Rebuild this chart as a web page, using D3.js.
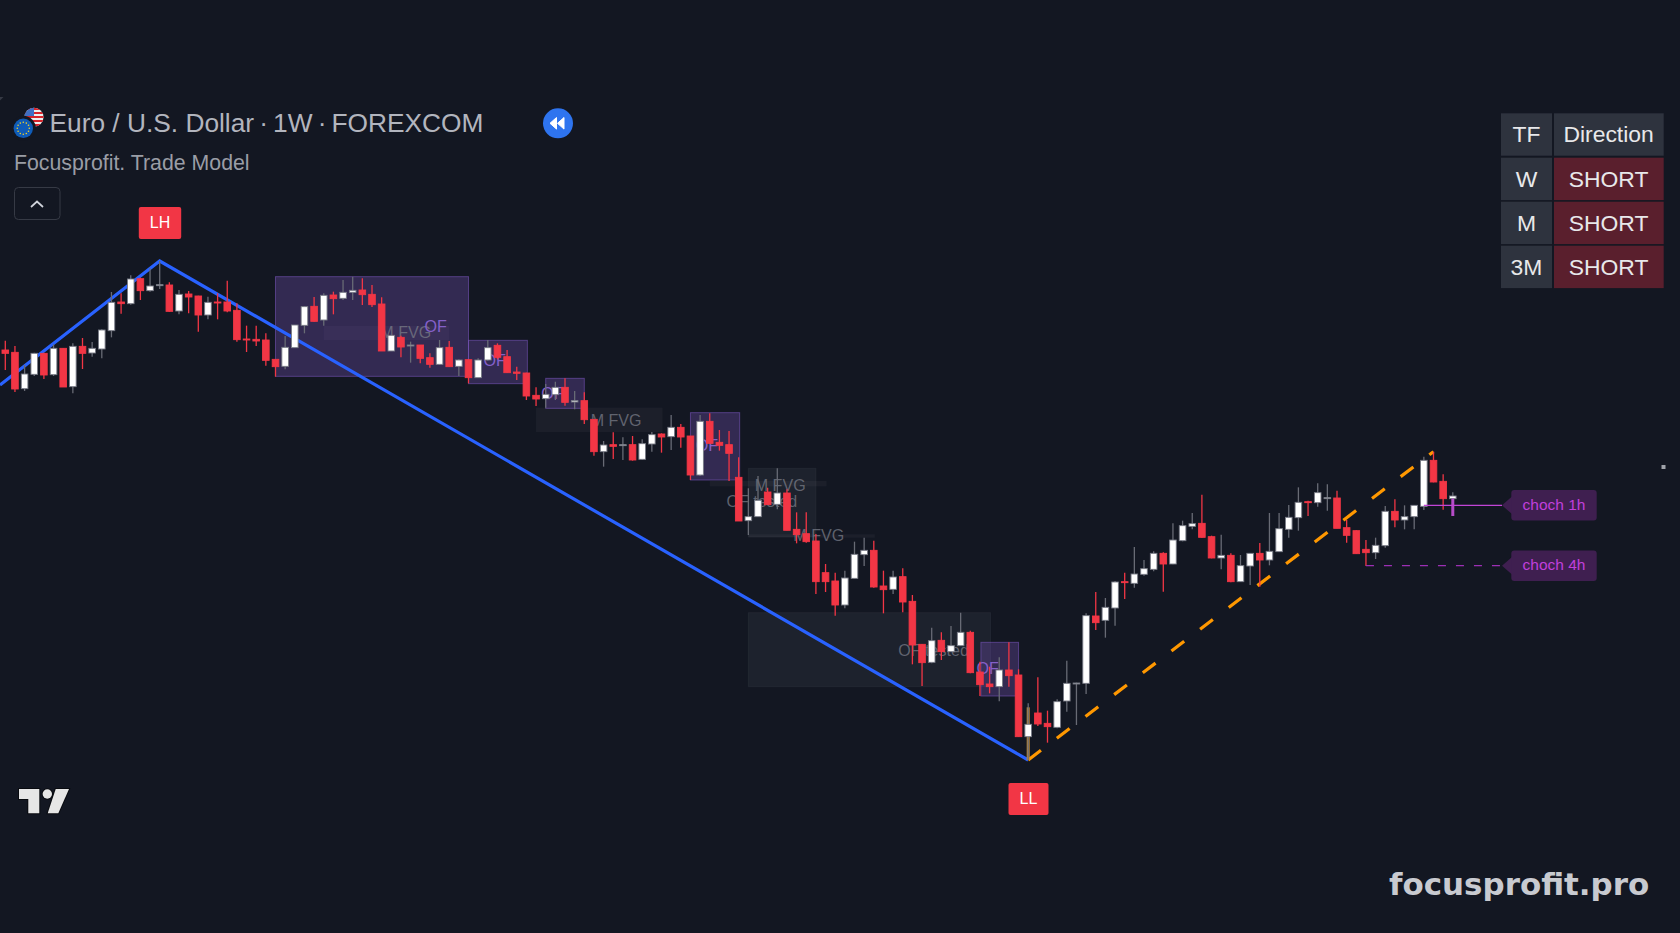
<!DOCTYPE html>
<html>
<head>
<meta charset="utf-8">
<script src="https://cdn.jsdelivr.net/npm/d3@7"></script>
<style>
    html, body { margin: 0; padding: 0; background: #131722; overflow: hidden; }
    svg { display: block; }
    text { font-family: "Liberation Sans", Arial, sans-serif; white-space: pre; }
</style>
</head>
<body>
<svg width="1680" height="933"></svg>
<script>
// Weekly candles, prices x 10000
var opens = [11900,11886,11668,11754,11880,11752,11910,11680,11922,11882,11906,12016,12188,12178,12328,12256,12286,12290,12134,12236,
    12224,12110,12188,12188,12138,11966,11964,11960,11844,11802,11914,12048,12162,12080,12230,12210,12246,12260,12234,12176,
    11894,11976,11924,11930,11854,11814,11916,11802,11842,11734,11840,11928,11860,11768,11762,11628,11608,11632,11676,11588,
    11596,11484,11290,11332,11326,11332,11244,11336,11396,11380,11436,11384,11150,11472,11346,11332,11136,10876,10900,11048,
    10974,11042,10824,10798,10754,10564,10514,10370,10530,10672,10698,10484,10464,10540,10392,10134,10026,10158,10090,10126,
    10206,9968,9896,9880,9980,9950,9580,9722,9660,9636,9794,9896,9900,10304,10278,10352,10510,10500,10554,10584,
    10680,10616,10756,10842,10860,10780,10652,10668,10510,10604,10680,10640,10690,10824,10894,10990,10984,11008,11012,10834,
    10816,10704,10684,10726,10932,10880,10900,10962,11238,11112,11008];
var highs = [11956,11924,11810,11884,11884,11934,11910,11940,11972,11948,12024,12248,12240,12348,12334,12390,12434,12306,12260,12254,
    12226,12220,12240,12316,12180,12046,12046,12000,11844,11984,12050,12164,12218,12240,12250,12320,12340,12330,12290,12216,
    11990,11986,11950,11930,11880,11960,11954,11844,11844,11850,11960,11940,11900,11800,11764,11676,11696,11710,11730,11654,
    11646,11484,11354,11406,11376,11384,11364,11408,11400,11510,11456,11384,11510,11520,11420,11414,11256,11070,11144,11074,
    11190,11064,10926,10926,10796,10616,10564,10576,10750,10774,10756,10576,10576,10590,10430,10136,10234,10206,10244,10324,
    10216,10030,10000,10056,10146,9984,9780,9936,9736,9804,10036,9904,10320,10448,10412,10514,10564,10718,10640,10692,
    10686,10860,10876,10922,11032,10786,10792,10680,10670,10680,10742,10922,10922,10970,11076,10996,11100,11094,11056,10880,
    10818,10760,10774,10964,11004,10968,10970,11260,11290,11154,11046];
var lows = [11780,11648,11654,11744,11726,11744,11678,11640,11786,11860,11850,11976,12118,12172,12200,12250,12266,12130,12114,12120,
    12010,12084,12084,12126,11950,11888,11924,11806,11740,11784,11914,12000,12070,12046,12114,12200,12200,12170,12158,11894,
    11894,11856,11824,11820,11794,11810,11800,11744,11700,11734,11836,11844,11764,11720,11600,11564,11554,11600,11566,11544,
    11456,11266,11200,11246,11240,11236,11240,11290,11284,11300,11314,11120,11144,11336,11296,11114,10874,10790,10900,10970,
    10944,10818,10740,10744,10436,10448,10306,10350,10530,10604,10474,10320,10436,10326,10014,9884,10020,10040,10090,10124,
    9960,9824,9840,9792,9880,9580,9440,9644,9544,9630,9730,9650,9836,10220,10174,10246,10406,10474,10546,10572,
    10450,10614,10752,10824,10774,10650,10584,10506,10508,10490,10480,10608,10688,10774,10816,10904,10960,10936,10830,10744,
    10678,10604,10646,10714,10836,10824,10824,10940,11106,10942,10904];
var closes = [11880,11666,11756,11880,11750,11910,11678,11922,11880,11910,12020,12186,12178,12326,12256,12284,12292,12132,12234,12218,
    12110,12186,12182,12134,11962,11960,11954,11838,11800,11916,12050,12160,12072,12228,12208,12246,12258,12232,12172,11894,
    11988,11918,11930,11850,11814,11914,11800,11840,11734,11840,11914,11856,11764,11760,11624,11606,11634,11676,11586,11596,
    11482,11290,11330,11322,11332,11240,11338,11392,11378,11436,11378,11150,11472,11340,11328,11280,10874,10900,10998,10972,
    11042,10818,10792,10750,10510,10510,10370,10532,10674,10698,10478,10462,10538,10388,10130,10024,10156,10090,10126,10206,
    9964,9892,9880,9980,9946,9580,9654,9656,9640,9790,9900,9902,10306,10264,10356,10508,10504,10556,10588,10680,
    10616,10760,10846,10858,10776,10652,10668,10510,10606,10680,10640,10692,10828,10896,10986,10984,11044,11014,10830,10788,
    10678,10684,10728,10932,10880,10900,10968,11238,11108,11008,11024];

// Swing legs, [bar, price]
var bearLeg = [[-0.55, 11690], [16, 12434], [106, 9440]];
var bullLeg = [[106, 9440], [148, 11290]];

// Zones, [first bar, last bar, top price, bottom price]
var obBoxes = [[28, 48, 12340, 11742], [48, 54.1, 11958, 11698], [56, 60, 11730, 11550], [71, 76.1, 11524, 11120], [101.1, 105, 10146, 9824]];
var testedBoxes = [[77, 84, 11190, 10780], [77, 102.1, 10324, 9880]];
var fvgBoxes = [[33, 46, 12044, 11960], [55, 68.1, 11554, 11408], [73, 85.1, 11114, 11082], [77, 90.1, 10794, 10774]];

// Zone captions, [bar, price]
var fvgLabels = [[41.5, 12006], [63.3, 11480], [80.3, 11090], [84.3, 10788]];
var testedLabels = [[78.4, 10992], [96.2, 10102]];
var ofLabels = [[44.6, 12042], [50.7, 11838], [56.7, 11644], [72.7, 11330], [101.8, 9990]];

// Thick wick highlights, [bar, top price, bottom price]
var orangeWick = [106, 9756, 9440];
var purpleWick = [150, 11008, 10904];

// choch levels, [first bar, price, label]
var chochLevels = [[147, 10968, 'choch 1h'], [141, 10606, 'choch 4h']];

var titleParts = ['Euro / U.S. Dollar', ' ·', ' 1W', ' ·', ' FOREXCOM'];
var tfLabels = ['TF', 'W', 'M', '3M'];
var directionLabels = ['Direction', 'SHORT', 'SHORT', 'SHORT'];

var svg = d3.select('svg');
var svgWidth = +svg.attr('width');
var svgHeight = +svg.attr('height');

var xScale = d3.scaleLinear().domain([0, 150]).range([5.3, 1452.8]);
var yScale = d3.scaleLinear().domain([14000, 8402]).range([0, svgHeight]);

var lineGen = d3.line()
    .x(function(d) { return xScale(d[0]); })
    .y(function(d) { return yScale(d[1]); });

// Draw a list of zones as rects
function drawBoxes(list, fill, stroke) {
    svg.append('g').selectAll('rect')
        .data(list)
        .enter()
        .append('rect')
        .attr('x', function(d) { return xScale(d[0]); })
        .attr('y', function(d) { return yScale(d[2]); })
        .attr('width', function(d) { return xScale(d[1]) - xScale(d[0]); })
        .attr('height', function(d) { return yScale(d[3]) - yScale(d[2]); })
        .attr('fill', fill)
        .attr('stroke', stroke)
        .attr('stroke-width', 1);
}

function drawCaptions(list, caption, color) {
    svg.append('g').selectAll('text')
        .data(list)
        .enter()
        .append('text')
        .attr('x', function(d) { return xScale(d[0]); })
        .attr('y', function(d) { return yScale(d[1]); })
        .attr('text-anchor', 'middle')
        .attr('dominant-baseline', 'central')
        .attr('font-size', 16.1)
        .attr('fill', color)
        .text(caption);
}

drawBoxes(testedBoxes, 'rgba(120,123,134,0.11)', 'rgba(120,123,134,0.1)');
drawBoxes(fvgBoxes, 'rgba(120,123,134,0.09)', 'none');
drawBoxes(obBoxes, 'rgba(126,87,194,0.3)', 'rgba(126,87,194,0.55)');

svg.append('path')
    .attr('d', lineGen(bearLeg))
    .attr('fill', 'none')
    .attr('stroke', '#2962ff')
    .attr('stroke-width', 3.2)
    .attr('stroke-linejoin', 'miter');

svg.append('path')
    .attr('d', lineGen(bullLeg))
    .attr('fill', 'none')
    .attr('stroke', '#ff9800')
    .attr('stroke-width', 3.2)
    .attr('stroke-dasharray', '16,20');

drawCaptions(fvgLabels, 'M FVG', 'rgba(120,123,134,0.75)');
drawCaptions(testedLabels, 'OF tested', 'rgba(120,123,134,0.75)');
drawCaptions(ofLabels, 'OF', '#8460c9');

// Orange highlight sits under the candle
svg.append('line')
    .attr('x1', xScale(orangeWick[0])).attr('x2', xScale(orangeWick[0]))
    .attr('y1', yScale(orangeWick[1])).attr('y2', yScale(orangeWick[2]))
    .attr('stroke', '#c08a35')
    .attr('stroke-width', 3);

// Candles
var bars = d3.range(opens.length);
var candle = svg.append('g').selectAll('g')
    .data(bars)
    .enter()
    .append('g');

candle.append('line')
    .attr('x1', function(i) { return xScale(i); })
    .attr('x2', function(i) { return xScale(i); })
    .attr('y1', function(i) { return yScale(highs[i]); })
    .attr('y2', function(i) { return yScale(lows[i]); })
    .attr('stroke', function(i) { return closes[i] >= opens[i] ? '#686b75' : '#f23645'; })
    .attr('stroke-width', 1.3);

candle.append('rect')
    .attr('x', function(i) { return xScale(i) - 3.3; })
    .attr('width', 6.6)
    .attr('y', function(i) { return yScale(Math.max(opens[i], closes[i])); })
    .attr('height', function(i) { return Math.max(1, Math.abs(yScale(opens[i]) - yScale(closes[i]))); })
    .attr('fill', function(i) { return closes[i] >= opens[i] ? '#ffffff' : '#f23645'; })
    .attr('stroke', function(i) { return closes[i] >= opens[i] ? '#787b86' : '#f23645'; })
    .attr('stroke-width', 0.9);

svg.append('line')
    .attr('x1', xScale(purpleWick[0])).attr('x2', xScale(purpleWick[0]))
    .attr('y1', yScale(purpleWick[1])).attr('y2', yScale(purpleWick[2]))
    .attr('stroke', '#b64cc8')
    .attr('stroke-width', 3);

// choch levels and their tags
var tagX = 1511.3, tagW = 85.4, tagH = 30.5, tipX = 1502;
chochLevels.forEach(function(d, n) {
    var y = yScale(d[1]);
    svg.append('line')
        .attr('x1', xScale(d[0])).attr('x2', tipX)
        .attr('y1', y).attr('y2', y)
        .attr('stroke', n == 0 ? '#c245d6' : '#9c2fb4')
        .attr('stroke-width', 1.3)
        .attr('stroke-dasharray', n == 0 ? null : '8,10');
    svg.append('path')
        .attr('d', 'M' + tipX + ',' + y + 'L' + (tagX + 1) + ',' + (y - 9) + 'L' + (tagX + 1) + ',' + (y + 9) + 'Z')
        .attr('fill', '#3f1f50');
    svg.append('rect')
        .attr('x', tagX).attr('y', y - tagH / 2)
        .attr('width', tagW).attr('height', tagH)
        .attr('rx', 3)
        .attr('fill', '#3f1f50');
    svg.append('text')
        .attr('x', tagX + tagW / 2).attr('y', y - 0.7)
        .attr('text-anchor', 'middle')
        .attr('dominant-baseline', 'central')
        .attr('font-size', 15.5)
        .attr('fill', '#c03fdc')
        .text(d[2]);
});

// LH / LL tags
function swingTag(bar, y, w, label) {
    svg.append('rect')
        .attr('x', xScale(bar) - w / 2 + 0.3).attr('y', y)
        .attr('width', w).attr('height', 32)
        .attr('rx', 2)
        .attr('fill', '#f23645');
    svg.append('text')
        .attr('x', xScale(bar) + 0.3).attr('y', y + 15.5)
        .attr('text-anchor', 'middle')
        .attr('dominant-baseline', 'central')
        .attr('font-size', 16)
        .attr('fill', '#ffffff')
        .text(label);
}
swingTag(bearLeg[1][0], 207, 42.4, 'LH');
swingTag(bearLeg[2][0], 783, 40, 'LL');

// Header
svg.append('path')
    .attr('d', 'M0,97L3.5,97L0,100.5Z')
    .attr('fill', '#363a45');

var flags = svg.append('g');
flags.append('clipPath').attr('id', 'usClip')
    .append('circle').attr('cx', 34).attr('cy', 117.3).attr('r', 9.5);
var usFlag = flags.append('g').attr('clip-path', 'url(#usClip)');
usFlag.append('rect').attr('x', 24).attr('y', 107).attr('width', 20).attr('height', 21).attr('fill', '#eeeeee');
usFlag.selectAll('.stripe')
    .data(d3.range(5))
    .enter()
    .append('rect')
    .attr('class', 'stripe')
    .attr('x', 24)
    .attr('y', function(i) { return 108 + i * 4; })
    .attr('width', 20)
    .attr('height', 2)
    .attr('fill', '#d8232a');
usFlag.append('rect').attr('x', 24).attr('y', 107).attr('width', 10).attr('height', 9).attr('fill', '#3f6fc4');
flags.append('circle').attr('cx', 23.3).attr('cy', 128.3).attr('r', 12.5).attr('fill', '#131722');
flags.append('circle').attr('cx', 23.3).attr('cy', 128.3).attr('r', 9.7).attr('fill', '#0f5cb8');
flags.selectAll('.star')
    .data(d3.range(12))
    .enter()
    .append('circle')
    .attr('class', 'star')
    .attr('cx', function(i) { return 23.3 + 6 * Math.cos(i * Math.PI / 6); })
    .attr('cy', function(i) { return 128.3 + 6 * Math.sin(i * Math.PI / 6); })
    .attr('r', 0.8)
    .attr('fill', '#f5d327');

// Title dots sit tighter than plain spaces would put them
var title = svg.append('text')
    .attr('x', 49.5).attr('y', 132)
    .attr('font-size', 26.3)
    .attr('fill', '#b2b5be');
titleParts.forEach(function(part, n) {
    title.append('tspan')
        .attr('dx', n == 0 ? 0 : -2.2)
        .text(part);
});

svg.append('text')
    .attr('x', 14).attr('y', 170)
    .attr('font-size', 21.3)
    .attr('fill', '#9a9da6')
    .text('Focusprofit. Trade Model');

svg.append('rect')
    .attr('x', 14.5).attr('y', 187.5)
    .attr('width', 45.5).attr('height', 32)
    .attr('rx', 4)
    .attr('fill', 'none')
    .attr('stroke', '#363a45');
svg.append('path')
    .attr('d', 'M31,207L37,201.5L43,207')
    .attr('fill', 'none')
    .attr('stroke', '#d1d4dc')
    .attr('stroke-width', 1.7);

svg.append('circle')
    .attr('cx', 558).attr('cy', 123.3).attr('r', 15)
    .attr('fill', '#2e74ef');
svg.append('path')
    .attr('d', 'M550,123.3L556.5,117.5V129.1ZM557.5,123.3L564,117.5V129.1Z')
    .attr('fill', '#ffffff')
    .attr('stroke', '#ffffff')
    .attr('stroke-linejoin', 'round');

// Direction table
var rowTops = [113.3, 157.7, 201.7, 245.7];
tfLabels.forEach(function(tf, r) {
    var h = 42.4;
    svg.append('rect')
        .attr('x', 1501).attr('y', rowTops[r])
        .attr('width', 51).attr('height', h)
        .attr('fill', '#2e333e');
    svg.append('rect')
        .attr('x', 1554).attr('y', rowTops[r])
        .attr('width', 109.7).attr('height', h)
        .attr('fill', r == 0 ? '#2e333e' : '#5a1f2d');
    svg.append('text')
        .attr('x', 1526.5).attr('y', rowTops[r] + h / 2 - 0.4)
        .attr('text-anchor', 'middle')
        .attr('dominant-baseline', 'central')
        .attr('font-size', 22.9)
        .attr('fill', '#e8e8ea')
        .text(tf);
    svg.append('text')
        .attr('x', 1608.6).attr('y', rowTops[r] + h / 2 - 0.4)
        .attr('text-anchor', 'middle')
        .attr('dominant-baseline', 'central')
        .attr('font-size', 22.9)
        .attr('fill', '#e8e8ea')
        .text(directionLabels[r]);
});

// TradingView logo
var logo = svg.append('g')
    .attr('fill', '#e6e6e6')
    .attr('stroke', '#000000')
    .attr('stroke-opacity', 0.55)
    .attr('stroke-width', 2)
    .attr('paint-order', 'stroke');
logo.append('path').attr('d', 'M19,789H39.3V813.3H28.3V799H19Z');
logo.append('circle').attr('cx', 47.3).attr('cy', 794).attr('r', 4.7);
logo.append('path').attr('d', 'M55.7,789H69L58.3,813.3H47.7Z');

svg.append('text')
    .attr('x', 1389).attr('y', 895)
    .attr('font-weight', 'bold')
    .attr('font-size', 30.95)
    .attr('fill', '#c8cad0')
    .style('font-family', '"DejaVu Sans"')
    .text('focusprofit.pro');

svg.append('rect')
    .attr('x', 1661.5).attr('y', 465)
    .attr('width', 4).attr('height', 4)
    .attr('fill', '#a0a3aa');
</script>
</body>
</html>
